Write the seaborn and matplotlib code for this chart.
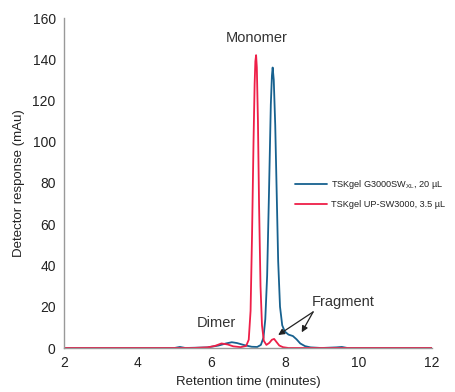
import numpy as np
import pandas as pd
import matplotlib
matplotlib.use("Agg")
import matplotlib.pyplot as plt
import seaborn as sns

# --- data ---
red_time = [2.0, 5.5, 5.9, 6.1, 6.28, 6.45, 6.6, 6.8, 6.95, 7.02, 7.07, 7.11, 7.15, 7.18, 7.2,
            7.22, 7.24, 7.27, 7.3, 7.34, 7.38, 7.43, 7.5, 7.58, 7.65, 7.71, 7.77, 7.85, 7.95, 8.1, 12.0]
red_resp = [0.0, 0.0, 0.3, 1.0, 2.2, 1.7, 0.8, 0.4, 1.0, 4.0, 18.0, 55.0, 100.0, 128.0, 139.0,
            142.0, 136.0, 110.0, 70.0, 30.0, 11.0, 3.5, 1.5, 2.5, 4.0, 4.4, 3.0, 1.2, 0.4, 0.0, 0.0]

blue_time = [2.0, 5.0, 5.15, 5.3, 5.9, 6.2, 6.4, 6.56, 6.7, 6.9, 7.1, 7.25, 7.35, 7.42, 7.47,
             7.52, 7.57, 7.62, 7.65, 7.67, 7.7, 7.74, 7.78, 7.82, 7.87, 7.93, 8.0, 8.1, 8.22,
             8.32, 8.42, 8.55, 8.7, 9.0, 9.4, 9.55, 9.7, 12.0]
blue_resp = [0.0, 0.0, 0.5, 0.0, 0.3, 1.2, 2.2, 2.8, 2.4, 1.4, 0.6, 0.5, 1.5, 5.0, 14.0,
             35.0, 75.0, 118.0, 132.0, 136.0, 130.0, 108.0, 75.0, 42.0, 20.0, 11.0, 8.0, 6.5, 5.8,
             4.2, 2.2, 0.9, 0.3, 0.0, 0.3, 0.5, 0.0, 0.0]

series_names = ["TSKgel G3000SW$_{\\mathregular{XL}}$, 20 µL", "TSKgel UP-SW3000, 3.5 µL"]
x_ticks = [2, 4, 6, 8, 10, 12]
y_ticks = [0, 20, 40, 60, 80, 100, 120, 140, 160]

df = pd.concat([
    pd.DataFrame({"time": blue_time, "resp": blue_resp, "series": series_names[0]}),
    pd.DataFrame({"time": red_time, "resp": red_resp, "series": series_names[1]}),
], ignore_index=True)

sns.set_style("white")
plt.rcParams["font.family"] = ["Liberation Sans", "DejaVu Sans"]
plt.rcParams["mathtext.fontset"] = "custom"
plt.rcParams["mathtext.rm"] = "Liberation Sans"

fig = plt.figure(figsize=(4.56, 3.92), dpi=100)
ax = fig.add_axes([64 / 456, 44 / 392, (432 - 64) / 456, (348 - 18) / 392])

palette = {series_names[0]: "#17618f", series_names[1]: "#ee1f48"}
sns.lineplot(data=df, x="time", y="resp", hue="series", palette=palette,
             linewidth=1.3, ax=ax, sort=False, estimator=None)

ax.set_xlim(2, 12)
ax.set_ylim(0, 160)
ax.set_xticks(x_ticks)
ax.set_yticks(y_ticks)
ax.tick_params(axis="both", length=0, labelsize=10, colors="#222222", pad=6)
ax.set_xlabel("Retention time (minutes)", fontsize=9.5, color="#222222", labelpad=4)
ax.set_ylabel("Detector response (mAu)", fontsize=9.5, color="#222222", labelpad=5)

for s in ["top", "right"]:
    ax.spines[s].set_visible(False)
for s in ["left", "bottom"]:
    ax.spines[s].set_color("#999999")
    ax.spines[s].set_linewidth(1.0)

leg = ax.legend(loc="upper left", bbox_to_anchor=((295 - 64) / 368, 1 - (178 - 18) / 330),
                frameon=False, handlelength=3.5, handletextpad=0.4, labelspacing=1.0,
                fontsize=6.6, borderaxespad=0, borderpad=0)
for t in leg.get_texts():
    t.set_color("#222222")

ax.text(7.23, 147, "Monomer", ha="center", va="bottom", fontsize=10.5, color="#333333")
ax.text(6.15, 8.5, "Dimer", ha="center", va="bottom", fontsize=10.5, color="#333333")
ax.text(9.6, 19, "Fragment", ha="center", va="bottom", fontsize=10.5, color="#333333")
for tip in [(7.82, 6.3), (8.46, 7.6)]:
    ax.annotate("", xy=tip, xytext=(8.77, 17.5),
                arrowprops=dict(arrowstyle="-|>", color="#222222", lw=0.9,
                                mutation_scale=9, shrinkA=0, shrinkB=0))

fig.savefig("out.png", dpi=100)
